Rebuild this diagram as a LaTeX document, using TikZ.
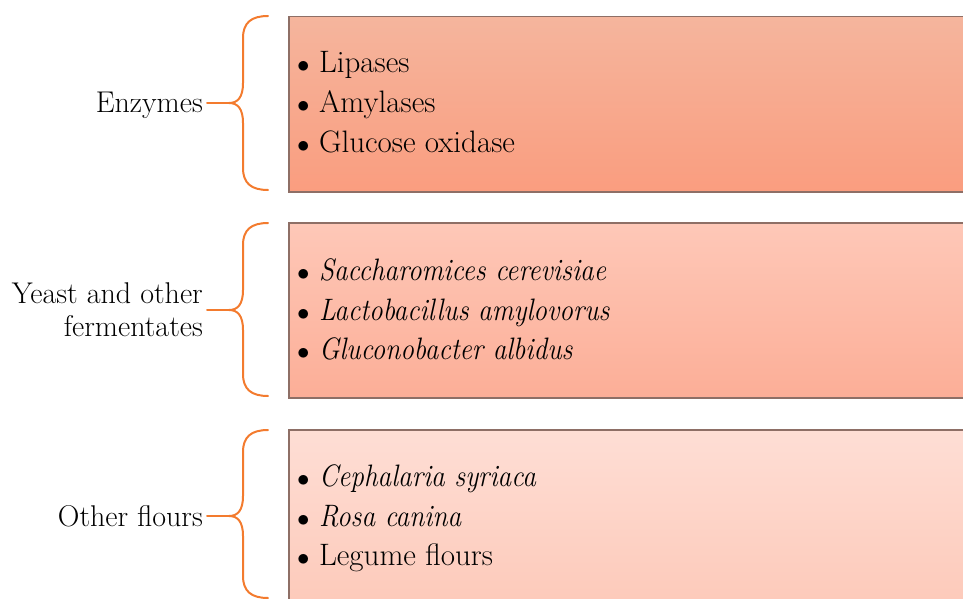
\documentclass[tikz,border=0pt]{standalone}
\usepackage{graphicx}
\usetikzlibrary{calc}
\definecolor{braceor}{HTML}{F37B2E}
\definecolor{boxline}{HTML}{8E6F66}
\definecolor{aTop}{HTML}{F5B59D}
\definecolor{aBot}{HTML}{FA9D7F}
\definecolor{bTop}{HTML}{FEC8B8}
\definecolor{bBot}{HTML}{FCAE97}
\definecolor{cTop}{HTML}{FEDED5}
\definecolor{cBot}{HTML}{FDC9B9}
\tikzset{
  catbox/.style={draw=boxline, line width=1.5pt, anchor=north west, minimum width=700pt, inner sep=0pt},
  item/.style={anchor=base west, inner sep=0pt, font=\fontsize{31}{36}\selectfont},
  cat/.style={anchor=base east, inner sep=0pt, align=right, font=\fontsize{30}{33}\selectfont},
  bracestyle/.style={draw=braceor, line width=2pt, line cap=round},
}
\newcommand{\spname}[1]{\scalebox{0.88}[1]{\textit{#1}}}
\newcommand{\mybrace}[3]{%
  \draw[bracestyle] (268,#1) .. controls (251,#1) and (243,#1+7) .. (243,#1+22)
    -- (243,#2-20) .. controls (243,#2-6) and (238,#2) .. (229,#2)
    .. controls (238,#2) and (243,#2+6) .. (243,#2+20)
    -- (243,#3-22) .. controls (243,#3-7) and (251,#3) .. (268,#3);}
\begin{document}
\begin{tikzpicture}[x=1pt,y=-1pt]
\useasboundingbox (0,0) rectangle (963,599);
\clip (0,0) rectangle (963,599);
% boxes
\node[catbox, minimum height=175pt, top color=aTop, bottom color=aBot] (boxA) at (288,16) {};
\node[catbox, minimum height=175pt, top color=bTop, bottom color=bBot] (boxB) at (288,222) {};
\node[catbox, minimum height=180pt, top color=cTop, bottom color=cBot] (boxC) at (288,429) {};
% items
\node[item] (a1) at (297,73) {$\bullet$ Lipases};
\node[item] (a2) at (297,113) {$\bullet$ Amylases};
\node[item] (a3) at (297,152) {$\bullet$ Glucose oxidase};
\node[item] (b1) at (297,280) {$\bullet$ \spname{Saccharomices cerevisiae}};
\node[item] (b2) at (297,320) {$\bullet$ \spname{Lactobacillus amylovorus}};
\node[item] (b3) at (297,359) {$\bullet$ \spname{Gluconobacter albidus}};
\node[item] (c1) at (297,486) {$\bullet$ \spname{Cephalaria syriaca}};
\node[item] (c2) at (297,526) {$\bullet$ \spname{Rosa canina}};
\node[item] (c3) at (297,565) {$\bullet$ Legume flours};
% categories
\node[cat] (lA) at (203,113) {Enzymes};
\node[cat] (lB) at (203,336) {Yeast and other\\fermentates};
\node[cat] (lC) at (203,526) {Other flours};
% braces
\coordinate (tA) at (229,103);
\coordinate (tB) at (229,310);
\coordinate (tC) at (229,516);
\mybrace{16}{103}{190}
\mybrace{223}{310}{396}
\mybrace{430}{516}{598}
\draw[bracestyle] (207,103) -- (tA);
\draw[bracestyle] (207,310) -- (tB);
\draw[bracestyle] (207,516) -- (tC);
\end{tikzpicture}
\end{document}
